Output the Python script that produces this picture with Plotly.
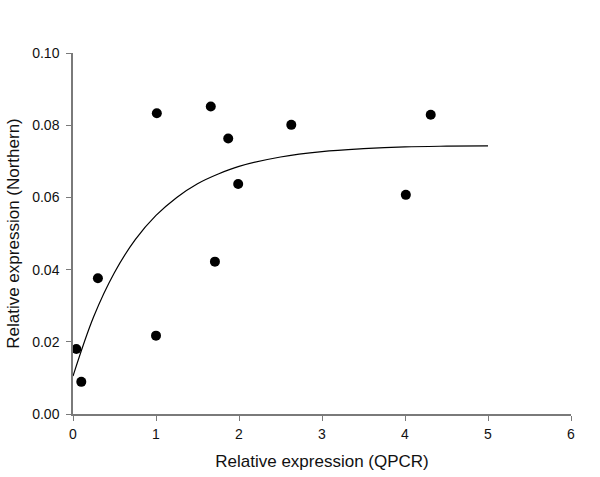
import plotly.graph_objects as go

# Scatter data
qpcr = [0.04, 0.10, 0.30, 1.00, 1.01, 1.66, 1.71, 1.87, 1.99, 2.63, 4.01, 4.31]
northern = [0.0180, 0.0089, 0.0376, 0.0217, 0.0833, 0.0852, 0.0422, 0.0763, 0.0637, 0.0801, 0.0607, 0.0829]

# Fitted curve
curve_x = [0, 0.25, 0.5, 0.75, 1.0, 1.25, 1.5, 1.75, 2.0, 2.5, 3.0, 3.5, 4.0, 4.5, 5.0]
curve_y = [0.0105, 0.0270, 0.0392, 0.0483, 0.0550, 0.0600, 0.0638, 0.0665, 0.0686,
           0.0712, 0.0727, 0.0735, 0.0740, 0.0742, 0.0743]

x_ticks = [0, 1, 2, 3, 4, 5, 6]
y_ticks = [0.00, 0.02, 0.04, 0.06, 0.08, 0.10]
y_tick_labels = ["0.00", "0.02", "0.04", "0.06", "0.08", "0.10"]

FONT = "Liberation Sans, Arial"

fig = go.Figure()
fig.add_trace(go.Scatter(x=curve_x, y=curve_y, mode="lines",
                         line=dict(color="black", width=1.2, shape="spline"),
                         hoverinfo="skip", showlegend=False))
fig.add_trace(go.Scatter(x=qpcr, y=northern, mode="markers",
                         marker=dict(color="black", size=10),
                         cliponaxis=False, showlegend=False))

axis_common = dict(showline=True, linecolor="#7a7a7a", linewidth=1.5,
                   ticks="outside", ticklen=5, tickcolor="#7a7a7a", tickwidth=1,
                   showgrid=False, zeroline=False, automargin=False,
                   tickfont=dict(family=FONT, size=14, color="#111"))

fig.update_xaxes(range=[0, 6], tickvals=x_ticks, ticklabelstandoff=1,
                 title=dict(text="Relative expression (QPCR)",
                            font=dict(family=FONT, size=17, color="#111"),
                            standoff=15),
                 **axis_common)
fig.update_yaxes(range=[0, 0.1], tickvals=y_ticks, ticktext=y_tick_labels,
                 ticklabelstandoff=4,
                 title=dict(text="Relative expression (Northern)",
                            font=dict(family=FONT, size=17, color="#111"),
                            standoff=8),
                 **axis_common)

fig.update_layout(width=600, height=477,
                  margin=dict(l=73, r=29, t=53, b=63),
                  plot_bgcolor="white", paper_bgcolor="white",
                  showlegend=False)

fig.write_html("out.html", config={"displayModeBar": False},
               post_script="document.body.style.margin='0';")
